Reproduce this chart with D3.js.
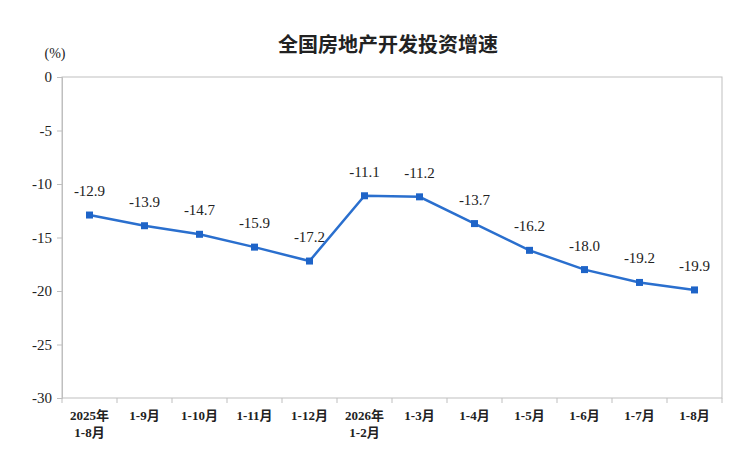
<!DOCTYPE html>
<html><head><meta charset="utf-8">
<script src="https://cdn.jsdelivr.net/npm/d3@7"></script>
<style>body{margin:0;background:#fff}</style></head>
<body><svg id="c" width="750" height="465"></svg>
<script>
const categories = [["2025年","1-8月"],["1-9月"],["1-10月"],["1-11月"],["1-12月"],["2026年","1-2月"],["1-3月"],["1-4月"],["1-5月"],["1-6月"],["1-7月"],["1-8月"]];
const values = [-12.9,-13.9,-14.7,-15.9,-17.2,-11.1,-11.2,-13.7,-16.2,-18.0,-19.2,-19.9];
const yTicks = [0,-5,-10,-15,-20,-25,-30];

const svg = d3.select("#c");
const L=62,R=722,T=77,B=398;
const x = d3.scaleBand().domain(categories.map((d,i)=>i)).range([L,R]);
const y = d3.scaleLinear().domain([-30,0]).range([B,T]);
const serif = "'Liberation Serif','Times New Roman',serif";
const cjk = "'Liberation Serif','Noto Sans CJK SC',serif";

svg.append("rect").attr("x",L).attr("y",T).attr("width",R-L).attr("height",B-T).attr("fill","none").attr("stroke","#bfbfbf");
const ya = svg.append("g").attr("transform",`translate(${L},0)`).call(d3.axisLeft(y).tickValues(yTicks).tickSize(5).tickFormat(d=>d));
ya.select(".domain").attr("stroke","#bfbfbf");
ya.selectAll("line").attr("stroke","#bfbfbf");
ya.selectAll("text").attr("font-family",serif).attr("font-size",15).attr("fill","#222").attr("x",-10);

const xa = svg.append("g").attr("transform",`translate(0,${B})`).call(d3.axisBottom(x).tickSize(5).tickFormat(""));
xa.select(".domain").remove();
xa.selectAll("line").attr("stroke","#bfbfbf").attr("transform",`translate(${-x.bandwidth()/2},0)`);
svg.append("line").attr("x1",R).attr("x2",R).attr("y1",B).attr("y2",B+5).attr("stroke","#bfbfbf");
categories.forEach((c,i)=>{
  const t=svg.append("text").attr("x",x(i)+x.bandwidth()/2).attr("y",B+22).attr("text-anchor","middle")
   .attr("font-family",cjk).attr("font-size",13).attr("font-weight","bold").attr("fill","#222");
  c.forEach((s,k)=>t.append("tspan").attr("x",x(i)+x.bandwidth()/2).attr("dy",k?17:0).text(s));
});

const cx=i=>x(i)+x.bandwidth()/2;
svg.append("path").datum(values).attr("fill","none").attr("stroke","#2a6fce").attr("stroke-width",2.5)
  .attr("d",d3.line().x((d,i)=>cx(i)).y(d=>y(d)));
svg.selectAll(".m").data(values).join("rect").attr("x",(d,i)=>cx(i)-3.5).attr("y",d=>y(d)-3.5)
  .attr("width",7).attr("height",7).attr("fill","#1e64c8");
svg.selectAll(".l").data(values).join("text").attr("x",(d,i)=>cx(i)).attr("y",d=>y(d)-19)
  .attr("text-anchor","middle").attr("font-family",serif).attr("font-size",15).attr("fill","#222")
  .text(d=>d.toFixed(1));

svg.append("text").attr("x",388).attr("y",52).attr("text-anchor","middle").attr("font-family","'Noto Sans CJK SC'")
  .attr("font-weight","bold").attr("font-size",20).attr("fill","#222").text("全国房地产开发投资增速");
svg.append("text").attr("x",55).attr("y",58).attr("text-anchor","middle").attr("font-family",cjk)
  .attr("font-size",14).attr("fill","#222").text("(%)");
</script></body></html>
